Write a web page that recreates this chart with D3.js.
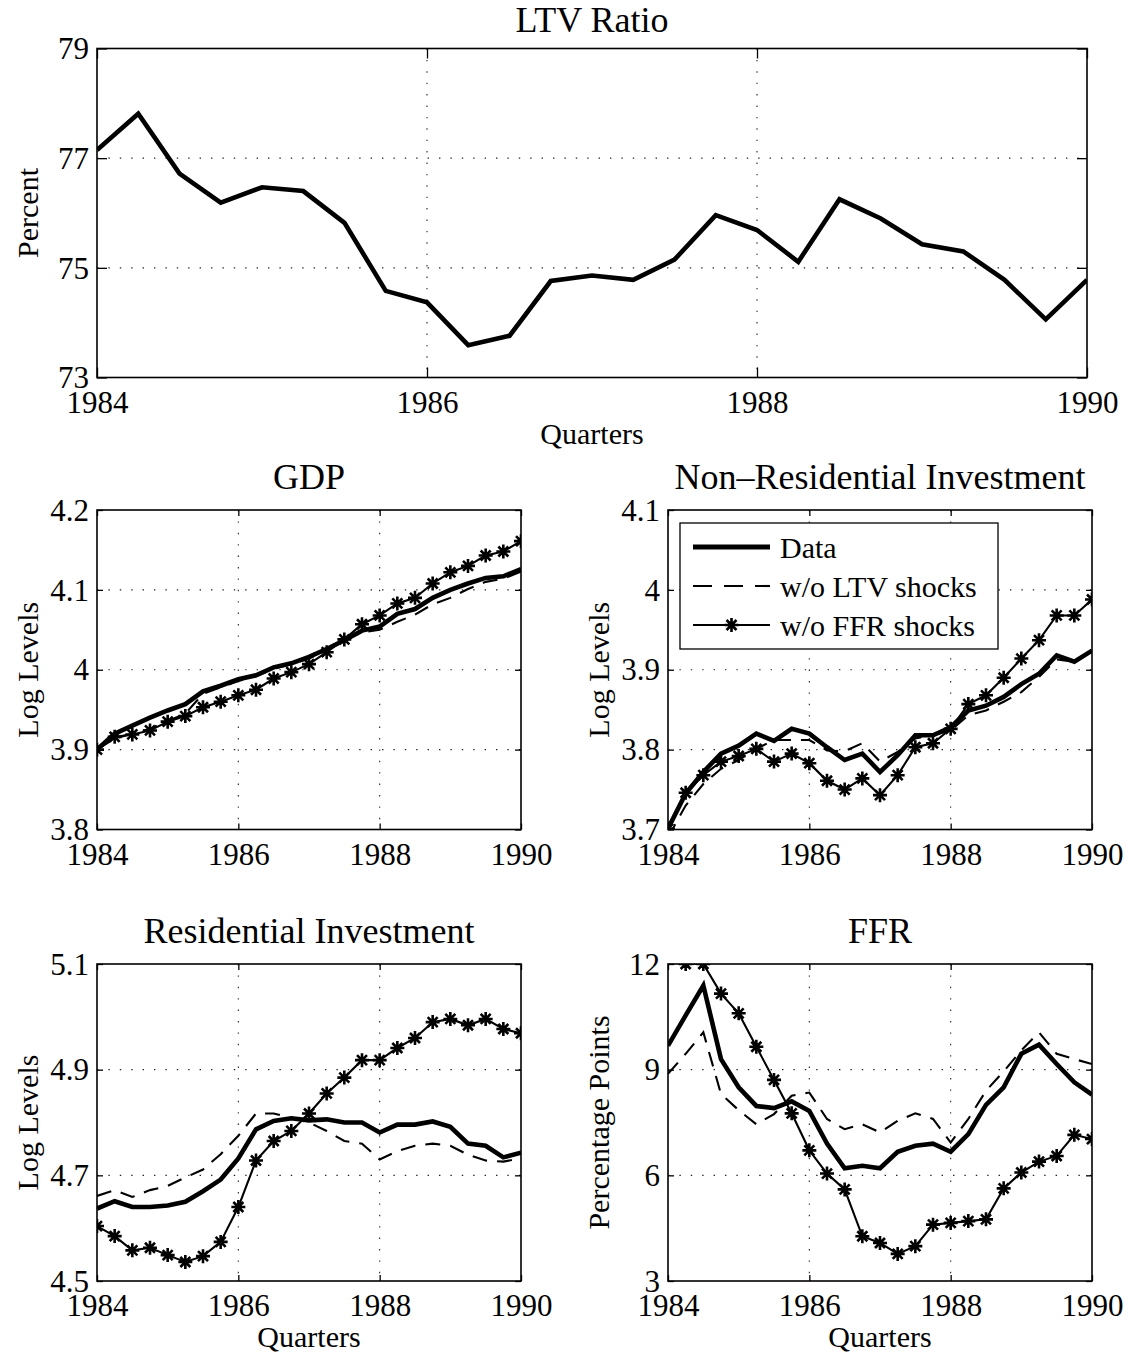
<!DOCTYPE html>
<html>
<head>
<meta charset="utf-8">
<script src="https://cdn.jsdelivr.net/npm/d3@7/dist/d3.min.js"></script>
<style>
  body { margin: 0; background: #fff; }
  svg text { font-family: "Liberation Serif", "Times New Roman", serif; fill: #000; }
</style>
</head>
<body>
<div id="app"></div>
<script>
// quarterly dates, 1984Q1 .. 1990Q1
const quarters = [1984, 1984.25, 1984.5, 1984.75, 1985, 1985.25, 1985.5, 1985.75,
    1986, 1986.25, 1986.5, 1986.75, 1987, 1987.25, 1987.5, 1987.75,
    1988, 1988.25, 1988.5, 1988.75, 1989, 1989.25, 1989.5, 1989.75, 1990]

const yearTicks = [1984, 1986, 1988, 1990]

const ltvRatio = [77.15, 77.81, 76.72, 76.19, 76.47, 76.40, 75.82, 74.58, 74.37, 73.59, 73.76, 74.76,
    74.86, 74.78, 75.15, 75.96, 75.69, 75.11, 76.25, 75.90, 75.43, 75.30, 74.78, 74.06, 74.78]

const gdpData = [3.900, 3.920, 3.930, 3.940, 3.949, 3.957, 3.973, 3.980, 3.988, 3.993, 4.003, 4.008,
    4.016, 4.026, 4.037, 4.049, 4.054, 4.070, 4.076, 4.090, 4.100, 4.108, 4.115, 4.117, 4.126]
const gdpNoLtv = [3.900, 3.914, 3.920, 3.926, 3.936, 3.945, 3.970, 3.978, 3.986, 3.992, 4.001, 4.007,
    4.014, 4.025, 4.037, 4.047, 4.050, 4.060, 4.069, 4.082, 4.090, 4.101, 4.110, 4.114, 4.123]
const gdpNoFfr = [3.900, 3.916, 3.919, 3.924, 3.935, 3.942, 3.953, 3.960, 3.968, 3.975, 3.989, 3.997,
    4.007, 4.022, 4.038, 4.057, 4.068, 4.083, 4.090, 4.108, 4.122, 4.130, 4.143, 4.148, 4.161]

const nriData = [3.701, 3.745, 3.772, 3.795, 3.805, 3.820, 3.811, 3.826, 3.820, 3.803, 3.787, 3.795,
    3.772, 3.793, 3.818, 3.818, 3.828, 3.849, 3.855, 3.866, 3.882, 3.895, 3.918, 3.910, 3.924]
const nriNoLtv = [3.690, 3.730, 3.757, 3.776, 3.787, 3.801, 3.812, 3.812, 3.812, 3.799, 3.798, 3.808,
    3.785, 3.797, 3.814, 3.818, 3.824, 3.843, 3.849, 3.860, 3.872, 3.891, 3.913, 3.910, 3.924]
const nriNoFfr = [3.701, 3.746, 3.768, 3.785, 3.792, 3.801, 3.785, 3.795, 3.783, 3.761, 3.750, 3.764,
    3.743, 3.768, 3.803, 3.808, 3.826, 3.857, 3.868, 3.890, 3.914, 3.937, 3.968, 3.968, 3.988]

const riData = [4.637, 4.651, 4.640, 4.640, 4.643, 4.650, 4.670, 4.692, 4.732, 4.787, 4.803, 4.808,
    4.804, 4.806, 4.800, 4.800, 4.781, 4.796, 4.796, 4.802, 4.792, 4.760, 4.756, 4.734, 4.743]
const riNoLtv = [4.661, 4.672, 4.659, 4.672, 4.680, 4.696, 4.711, 4.740, 4.775, 4.817, 4.817, 4.809,
    4.800, 4.784, 4.765, 4.760, 4.730, 4.746, 4.756, 4.760, 4.756, 4.739, 4.728, 4.726, 4.732]
const riNoFfr = [4.604, 4.585, 4.558, 4.563, 4.549, 4.536, 4.547, 4.574, 4.640, 4.728, 4.765, 4.784,
    4.817, 4.855, 4.885, 4.918, 4.918, 4.941, 4.960, 4.990, 4.996, 4.984, 4.996, 4.977, 4.969]

const ffrData = [9.68, 10.54, 11.39, 9.30, 8.50, 7.97, 7.91, 8.10, 7.83, 6.90, 6.20, 6.27,
    6.20, 6.67, 6.84, 6.90, 6.67, 7.17, 8.00, 8.50, 9.45, 9.71, 9.16, 8.64, 8.29]
const ffrNoLtv = [8.88, 9.45, 10.06, 8.31, 7.85, 7.45, 7.74, 8.26, 8.35, 7.60, 7.31, 7.45,
    7.22, 7.55, 7.76, 7.60, 6.93, 7.60, 8.40, 8.95, 9.55, 10.06, 9.45, 9.30, 9.16]
const ffrNoFfr = [12.5, 12.0, 12.0, 11.16, 10.60, 9.65, 8.71, 7.76, 6.71, 6.05, 5.60, 4.27,
    4.08, 3.77, 3.99, 4.60, 4.65, 4.70, 4.75, 5.63, 6.08, 6.39, 6.55, 7.15, 7.03]

const ltvTicks = [73, 75, 77, 79]
const gdpTicks = [3.8, 3.9, 4.0, 4.1, 4.2]
const nriTicks = [3.7, 3.8, 3.9, 4.0, 4.1]
const riTicks = [4.5, 4.7, 4.9, 5.1]
const ffrTicks = [3, 6, 9, 12]

const legendLabels = ['Data', 'w/o LTV shocks', 'w/o FFR shocks']

const width = 1133
const height = 1357
const serif = '"Liberation Serif", "Times New Roman", serif'

const styles = {
    data: { width: 4.6, dash: null, star: false },
    noLtv: { width: 2.1, dash: '15,10', star: false },
    noFfr: { width: 2.1, dash: null, star: true }
}

const panels = [
    { title: 'LTV Ratio', ylabel: 'Percent', xlabel: 'Quarters',
      x: 97, y: 48.5, w: 990, h: 329, yDomain: [73, 79], yTicks: ltvTicks, tick: 10,
      series: [['data', ltvRatio]] },
    { title: 'GDP', ylabel: 'Log Levels',
      x: 97, y: 510, w: 424, h: 319.5, yDomain: [3.8, 4.2], yTicks: gdpTicks, tick: 6,
      series: [['noLtv', gdpNoLtv], ['noFfr', gdpNoFfr], ['data', gdpData]] },
    { title: 'Non\u2013Residential Investment', ylabel: 'Log Levels', legend: true,
      x: 668, y: 510, w: 424, h: 319.5, yDomain: [3.7, 4.1], yTicks: nriTicks, tick: 6,
      series: [['noLtv', nriNoLtv], ['noFfr', nriNoFfr], ['data', nriData]] },
    { title: 'Residential Investment', ylabel: 'Log Levels', xlabel: 'Quarters',
      x: 97, y: 964, w: 424, h: 317, yDomain: [4.5, 5.1], yTicks: riTicks, tick: 6,
      series: [['noLtv', riNoLtv], ['noFfr', riNoFfr], ['data', riData]] },
    { title: 'FFR', ylabel: 'Percentage Points', xlabel: 'Quarters',
      x: 668, y: 964, w: 424, h: 317, yDomain: [3, 12], yTicks: ffrTicks, tick: 6,
      series: [['noLtv', ffrNoLtv], ['noFfr', ffrNoFfr], ['data', ffrData]] }
]

// MATLAB style '*' marker
const starPath = 'M-7,0H7M0,-7V7M-5,-5L5,5M-5,5L5,-5'

const fmt = d => String(+d.toFixed(2))

const svg = d3.create('svg')
    .attr('viewBox', [0, 0, width, height])
    .attr('width', width)
    .attr('height', height)
    .attr('font-family', serif)
    .style('background', '#fff')

panels.forEach((p, k) => {
    const x_scale = d3.scaleLinear().domain([1984, 1990]).range([0, p.w])
    const y_scale = d3.scaleLinear().domain(p.yDomain).range([p.h, 0])

    const g = svg.append('g').attr('transform', `translate(${p.x}, ${p.y})`)

    g.append('clipPath').attr('id', `clip-${k}`)
        .append('rect').attr('width', p.w).attr('height', p.h)

    // dotted grid at inner ticks
    const innerX = yearTicks.slice(1, -1)
    const innerY = p.yTicks.slice(1, -1)
    const grid = g.append('g')
        .attr('stroke', '#222')
        .attr('stroke-width', 1.1)
        .attr('stroke-dasharray', '1.4,10')
    grid.selectAll('.gx').data(innerX).join('line')
        .attr('x1', d => x_scale(d)).attr('x2', d => x_scale(d))
        .attr('y1', 0).attr('y2', p.h)
    grid.selectAll('.gy').data(innerY).join('line')
        .attr('y1', d => y_scale(d)).attr('y2', d => y_scale(d))
        .attr('x1', 0).attr('x2', p.w)

    // axes with inward ticks
    const bottom = g.append('g')
        .attr('transform', `translate(0, ${p.h})`)
        .call(d3.axisBottom(x_scale).tickValues(yearTicks).tickFormat(d3.format('d'))
            .tickSizeInner(-p.tick).tickSizeOuter(0).tickPadding(13))
    const left = g.append('g')
        .call(d3.axisLeft(y_scale).tickValues(p.yTicks).tickFormat(fmt)
            .tickSizeInner(-p.tick).tickSizeOuter(0).tickPadding(8))
    g.append('g')
        .call(d3.axisTop(x_scale).tickValues(yearTicks).tickFormat('')
            .tickSizeInner(-p.tick).tickSizeOuter(0))
    g.append('g')
        .attr('transform', `translate(${p.w}, 0)`)
        .call(d3.axisRight(y_scale).tickValues(p.yTicks).tickFormat('')
            .tickSizeInner(-p.tick).tickSizeOuter(0))

    ;[bottom, left].forEach(a => a.attr('font-family', serif).attr('font-size', 31))
    g.selectAll('.domain').remove()
    g.selectAll('.tick line').attr('stroke', '#000').attr('stroke-width', 1.3)
    g.selectAll('.tick text')
        .attr('font-family', serif)
        .attr('font-size', 31)
        .attr('fill', '#000')
    left.selectAll('.tick text').attr('dy', '0.33em')

    // series
    const plot = g.append('g').attr('clip-path', `url(#clip-${k})`)
    const line = d3.line()
        .x((d, i) => x_scale(quarters[i]))
        .y(d => y_scale(d))

    p.series.forEach(([key, values]) => {
        const s = styles[key]
        plot.append('path')
            .datum(values)
            .attr('d', line)
            .attr('fill', 'none')
            .attr('stroke', '#000')
            .attr('stroke-width', s.width)
            .attr('stroke-linejoin', 'miter')
            .attr('stroke-dasharray', s.dash)
        if (s.star) {
            plot.append('g')
                .selectAll('path')
                .data(values)
                .join('path')
                .attr('transform', (d, i) => `translate(${x_scale(quarters[i])}, ${y_scale(d)})`)
                .attr('d', starPath)
                .attr('stroke', '#000')
                .attr('stroke-width', 2.6)
                .attr('fill', 'none')
        }
    })

    // frame
    g.append('rect')
        .attr('width', p.w).attr('height', p.h)
        .attr('fill', 'none')
        .attr('stroke', '#000')
        .attr('stroke-width', 1.6)

    // texts
    g.append('text')
        .attr('x', p.w / 2)
        .attr('y', k === 0 ? -17 : -21)
        .attr('text-anchor', 'middle')
        .attr('font-size', 36)
        .text(p.title)

    g.append('text')
        .attr('transform', `translate(${-59}, ${p.h / 2}) rotate(-90)`)
        .attr('text-anchor', 'middle')
        .attr('font-size', 30)
        .text(p.ylabel)

    if (p.xlabel) {
        g.append('text')
            .attr('x', p.w / 2)
            .attr('y', p.h + 66)
            .attr('text-anchor', 'middle')
            .attr('font-size', 30)
            .text(p.xlabel)
    }

    if (p.legend) {
        const lg = g.append('g').attr('transform', 'translate(12, 13)')
        lg.append('rect')
            .attr('width', 318).attr('height', 126)
            .attr('fill', '#fff')
            .attr('stroke', '#000')
            .attr('stroke-width', 1.3)
        const keys = ['data', 'noLtv', 'noFfr']
        const row_scale = d3.scalePoint().domain(keys).range([24, 102])
        keys.forEach((key, i) => {
            const s = styles[key]
            const cy = row_scale(key)
            lg.append('line')
                .attr('x1', 13).attr('x2', 90)
                .attr('y1', cy).attr('y2', cy)
                .attr('stroke', '#000')
                .attr('stroke-width', key === 'data' ? 5 : 2.1)
                .attr('stroke-dasharray', s.dash ? '19,12' : null)
            if (s.star) {
                lg.append('path')
                    .attr('transform', `translate(51.5, ${cy})`)
                    .attr('d', starPath)
                    .attr('stroke', '#000')
                    .attr('stroke-width', 2.6)
                    .attr('fill', 'none')
            }
            lg.append('text')
                .attr('x', 100)
                .attr('y', cy + 11)
                .attr('font-size', 30)
                .text(legendLabels[i])
        })
    }
})

d3.select('#app').append(() => svg.node())
</script>
</body>
</html>
